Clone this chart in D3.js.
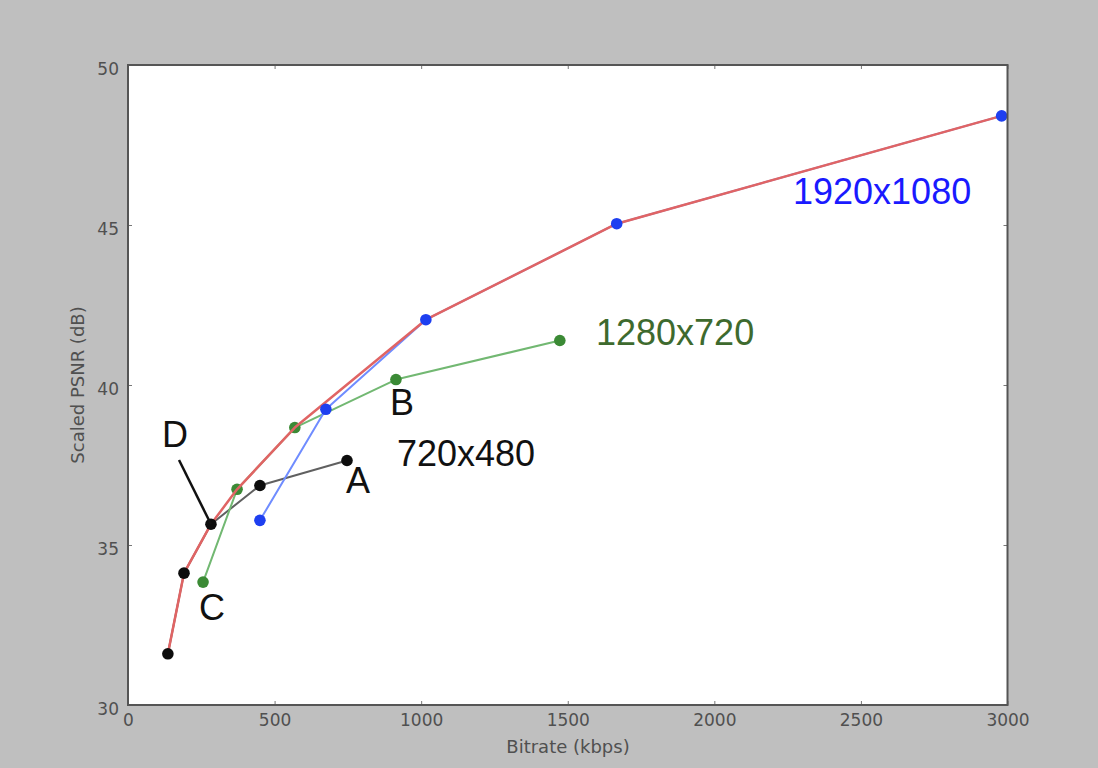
<!DOCTYPE html>
<html><head><meta charset="utf-8">
<script src="https://cdn.jsdelivr.net/npm/d3@7"></script>
<style>html,body{margin:0;padding:0;background:#bfbfbf;}svg{display:block;}</style>
</head><body>
<svg id="c" width="1098" height="768"></svg>
<script>
// Data (bitrate kbps, scaled PSNR dB)
const bitrate720x480  = [136, 191, 283, 450, 747];
const psnr720x480     = [31.6, 34.12, 35.65, 36.86, 37.64];
const bitrate1280x720 = [256, 372, 569, 914, 1473];
const psnr1280x720    = [33.84, 36.74, 38.67, 40.17, 41.39];
const bitrate1920x1080= [450, 675, 1016, 1667, 2980];
const psnr1920x1080   = [35.77, 39.24, 42.04, 45.04, 48.41];
const hullBitrate     = [136, 191, 283, 372, 569, 1016, 1667, 2980];
const hullPsnr        = [31.6, 34.12, 35.65, 36.74, 38.67, 42.04, 45.04, 48.41];
const xTicks = [0, 500, 1000, 1500, 2000, 2500, 3000];
const yTicks = [30, 35, 40, 45, 50];

const svg = d3.select("#c");
const L = 128, R = 1007.5, T = 65, B = 705;
const x = d3.scaleLinear().domain([0, 3000]).range([L, R]);
const y = d3.scaleLinear().domain([30, 50]).range([B, T]);

svg.append("rect").attr("x", L).attr("y", T).attr("width", R - L).attr("height", B - T).attr("fill", "#fff");

const zip = (a, b) => a.map((v, i) => [v, b[i]]);
const line = d3.line().x(d => x(d[0])).y(d => y(d[1]));

function drawLine(data, color, lw) {
  svg.append("path").attr("d", line(data)).attr("fill", "none")
    .attr("stroke", color).attr("stroke-width", lw).attr("stroke-linejoin", "round");
}
function drawMarks(data, color) {
  svg.append("g").selectAll("circle").data(data).join("circle")
    .attr("cx", d => x(d[0])).attr("cy", d => y(d[1])).attr("r", 5.8).attr("fill", color);
}
const g1280 = zip(bitrate1280x720, psnr1280x720);
const g1920 = zip(bitrate1920x1080, psnr1920x1080);
const g720 = zip(bitrate720x480, psnr720x480);
const hull = zip(hullBitrate, hullPsnr);

drawLine(g720, "#606060", 2);
drawLine(g1280, "#72b872", 2);
drawMarks(g1280, "#3b8a35");
drawLine(g1920, "#6f8cff", 2);
drawLine(hull, "#e06464", 2.5);
drawMarks(g1920, "#1e3ff0");
drawMarks(g720, "#0d0d0d");

// Annotation pointer D
svg.append("line").attr("x1", 179).attr("y1", 460).attr("x2", x(283)).attr("y2", y(35.65))
  .attr("stroke", "#111").attr("stroke-width", 2.5);

// Axes frame
const axisColor = "#555";
const gx = svg.append("g").attr("transform", `translate(0,${B})`)
  .call(d3.axisBottom(x).tickValues(xTicks).tickSize(-4).tickPadding(9).tickFormat(d3.format("d")));
const gxt = svg.append("g").attr("transform", `translate(0,${T})`)
  .call(d3.axisTop(x).tickValues(xTicks).tickSize(-4).tickFormat(""));
const gy = svg.append("g").attr("transform", `translate(${L},0)`)
  .call(d3.axisLeft(y).tickValues(yTicks).tickSize(-4).tickPadding(9).tickFormat(d3.format("d")));
const gyr = svg.append("g").attr("transform", `translate(${R},0)`)
  .call(d3.axisRight(y).tickValues(yTicks).tickSize(-4).tickFormat(""));
[gx, gxt, gy, gyr].forEach(g => {
  g.select(".domain").remove();
  g.selectAll(".tick line").attr("stroke", "#777").attr("stroke-width", 1);
  g.selectAll("text").attr("fill", "#505050").style("font-family", "DejaVu Sans").style("font-size", "17px");
});
gy.selectAll(".tick text").attr("dy", "0.55em");
svg.append("rect").attr("x", L).attr("y", T).attr("width", R - L).attr("height", B - T)
  .attr("fill", "none").attr("stroke", axisColor).attr("stroke-width", 2);

svg.append("text").attr("x", 568).attr("y", 753).attr("text-anchor", "middle")
  .attr("fill", "#505050").style("font-family", "DejaVu Sans").style("font-size", "18px").text("Bitrate (kbps)");
svg.append("text").attr("transform", "translate(84,385) rotate(-90)").attr("text-anchor", "middle")
  .attr("fill", "#505050").style("font-family", "DejaVu Sans").style("font-size", "18px").text("Scaled PSNR (dB)");

const labels = [
  ["1920x1080", 793, 204, "#1a1aff"],
  ["1280x720", 596, 345, "#3e6a2e"],
  ["720x480", 397, 466, "#111"],
  ["A", 346, 493, "#111"],
  ["B", 390, 415, "#111"],
  ["C", 199, 620, "#111"],
  ["D", 162, 447, "#111"]
];
svg.append("g").selectAll("text").data(labels).join("text")
  .attr("x", d => d[1]).attr("y", d => d[2]).attr("fill", d => d[3])
  .style("font-family", "Liberation Sans, Arial, sans-serif").style("font-size", "36px").text(d => d[0]);
</script>
</body></html>
